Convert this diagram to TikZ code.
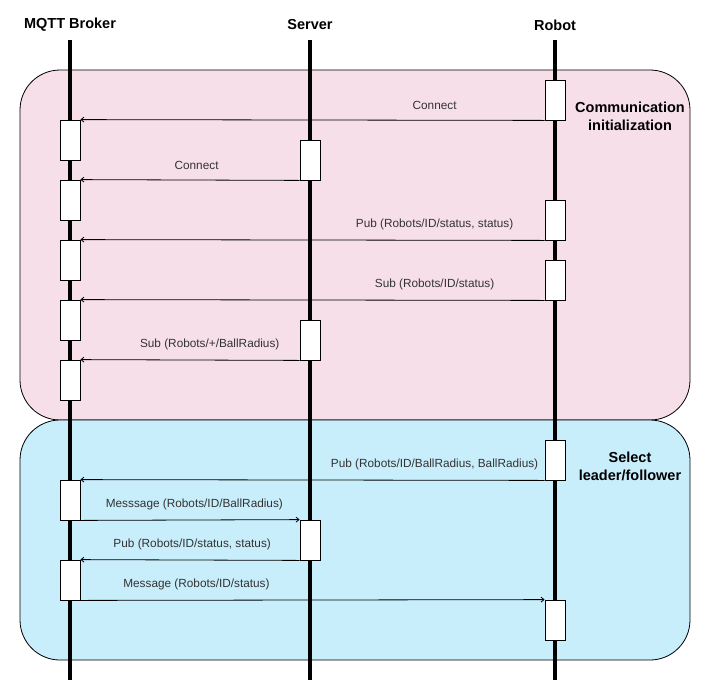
\documentclass[tikz,border=0pt]{standalone}
\usepackage{fontspec}
\setmainfont{Liberation Sans}
\usepackage{xcolor}
\usepackage{tikz}
\usetikzlibrary{positioning}
\usetikzlibrary{arrows.meta}

\definecolor{initpink}{RGB}{247,223,233}
\definecolor{selblue}{RGB}{200,237,251}

\begin{document}
\begin{tikzpicture}[
			x=1pt, y=-1pt,
			actor/.style   = {font=\fontsize{14.5}{16}\selectfont\bfseries, inner sep=0pt},
			lifeline/.style = {line width=3.6pt},
			region/.style  = {draw, line width=0.8pt, rounded corners=40pt, minimum width=670pt, inner sep=0pt},
			phase/.style   = {font=\fontsize{14.5}{18}\selectfont\bfseries, align=center, inner sep=0pt},
			actbox/.style  = {draw, fill=white, line width=0.8pt, minimum width=20pt, minimum height=40pt, inner sep=0pt},
			msg/.style     = {-{Straight Barb[length=3pt,width=5pt]}, line width=0.8pt},
			lbl/.style     = {font=\fontsize{11.8}{13}\selectfont, text=black!80, inner sep=0pt, above=10pt}
			]
			\useasboundingbox (0,0) rectangle (711,694);

			% phases
			\node[region, fill=initpink, minimum height=350pt] (init) at (355,245) {};
			\node[region, fill=selblue, minimum height=240pt] (select) at (355,540) {};
			\node[phase] (initlbl) at (630,116) {Communication\\initialization};
			\node[phase] (sellbl) at (630,466) {Select\\leader/follower};

			% lifelines
			\node[actor] (broker) at (70,25) {MQTT Broker};
			\node[actor] (server) at (310,25) {Server};
			\node[actor] (robot) at (555,25) {Robot};
			\foreach \a in {broker, server, robot} {
					\coordinate (\a-top) at ([yshift=-15pt]\a.center);
					\coordinate (\a-end) at (\a-top |- 0,680);
					\draw[lifeline] (\a-top) -- (\a-end);
				}

			% activation boxes
			\foreach \n/\y in {1/140, 2/200, 3/260, 4/320, 5/380, 6/500, 7/580}
			\node[actbox] (b\n) at (70,\y) {};
			\foreach \n/\y in {1/160, 2/340, 3/540}
			\node[actbox] (s\n) at (310,\y) {};
			\foreach \n/\y in {1/100, 2/220, 3/280, 4/460, 5/620}
			\node[actbox] (r\n) at (555,\y) {};

			% messages
			\draw[msg] (r1.south west) -- node[lbl, pos=0.237] {Connect} (b1.north east);
			\draw[msg] (s1.south west) -- node[lbl, pos=0.47] {Connect} (b2.north east);
			\draw[msg] (r2.south west) -- node[lbl, pos=0.237] {Pub (Robots/ID/status, status)} (b3.north east);
			\draw[msg] (r3.south west) -- node[lbl, pos=0.237] {Sub (Robots/ID/status)} (b4.north east);
			\draw[msg] (s2.south west) -- node[lbl, pos=0.41] {Sub (Robots/+/BallRadius)} (b5.north east);
			\draw[msg] (r4.south west) -- node[lbl, pos=0.237] {Pub (Robots/ID/BallRadius, BallRadius)} (b6.north east);
			\draw[msg] (b6.south east) -- node[lbl, pos=0.52] {Messsage (Robots/ID/BallRadius)} (s3.north west);
			\draw[msg] (s3.south west) -- node[lbl, pos=0.49] {Pub (Robots/ID/status, status)} (b7.north east);
			\draw[msg] (b7.south east) -- node[lbl, pos=0.25] {Message (Robots/ID/status)} (r5.north west);
		\end{tikzpicture}
\end{document}
